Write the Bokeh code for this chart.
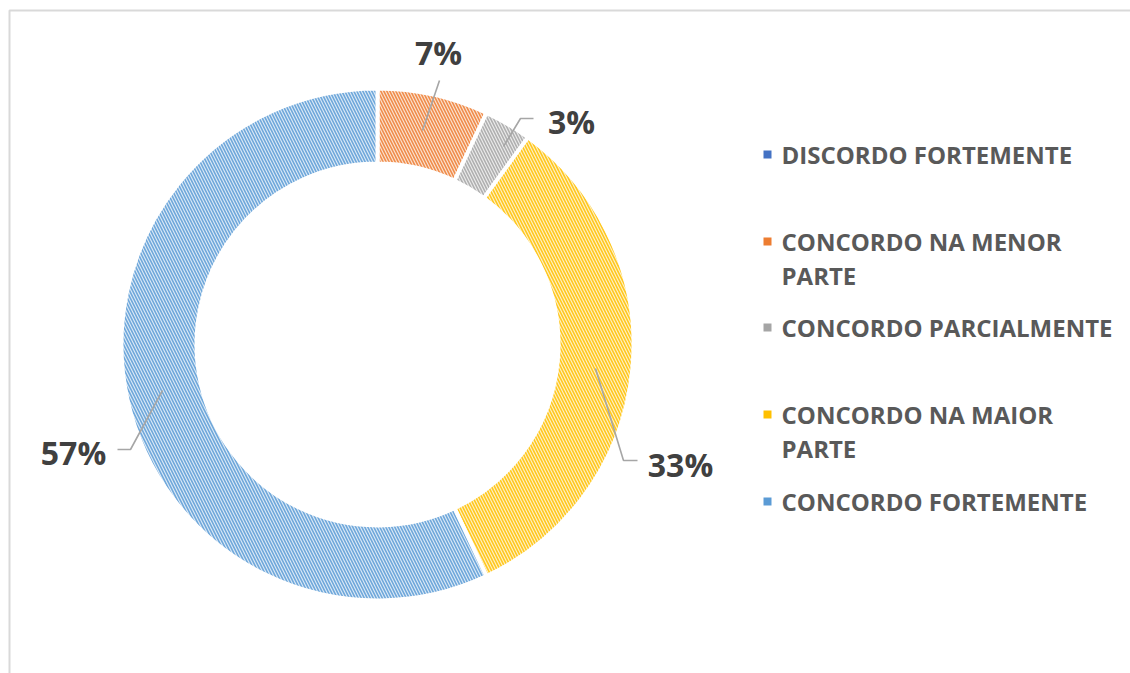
import math
from bokeh.plotting import figure
from bokeh.models import Range1d, ColumnDataSource
from bokeh.core.properties import value
from bokeh.embed import file_html
from bokeh.resources import INLINE

# ---------------- data ----------------
categories = ["DISCORDO FORTEMENTE", "CONCORDO NA MENOR\nPARTE", "CONCORDO PARCIALMENTE",
              "CONCORDO NA MAIOR\nPARTE", "CONCORDO FORTEMENTE"]
percentages = [0, 7, 3, 33, 57]
colors = ["#4472C4", "#ED7D31", "#A5A5A5", "#FFC000", "#5B9BD5"]

# ---------------- layout ----------------
W, H = 1130, 673
CX, CY = 377, 344          # donut centre (pixels from top-left)
R_OUT, R_IN = 256, 181
FONT = value("Open Sans")

def Y(py):
    return H - py

p = figure(width=W, height=H, output_backend="svg", toolbar_location=None,
           x_range=Range1d(0, W), y_range=Range1d(0, H), min_border=0)
p.axis.visible = False
p.grid.visible = False
p.outline_line_color = None
p.background_fill_color = "white"
p.border_fill_color = "white"

# chart border (only top/left visible in the window)
p.quad(left=[9], right=[W + 20], top=[Y(10)], bottom=[Y(H + 20)],
       fill_color=None, line_color="#D9D9D9", line_width=2)

# ---------------- donut ----------------
total = sum(percentages)
cum = 0.0
starts, ends, cols = [], [], []
for pct, c in zip(percentages, colors):
    a0 = cum / total
    cum += pct
    a1 = cum / total
    if pct > 0:
        starts.append(math.pi / 2 - 2 * math.pi * a1)
        ends.append(math.pi / 2 - 2 * math.pi * a0)
        cols.append(c)

src = ColumnDataSource(dict(x=[CX] * len(cols), y=[Y(CY)] * len(cols),
                            start=starts, end=ends, color=cols))
p.annular_wedge(x="x", y="y", inner_radius=R_IN, outer_radius=R_OUT,
                start_angle="start", end_angle="end", source=src,
                fill_color="color", fill_alpha=0.22,
                hatch_pattern="\\", hatch_color="color", hatch_scale=6,
                hatch_weight=1.6, hatch_alpha=0.85,
                line_color="white", line_width=4)

# ---------------- data labels with leader lines ----------------
label_pos = {1: (438, 52), 2: (571, 121), 3: (680, 464), 4: (73, 452)}
leaders = {
    1: [(422, 130), (439, 80)],
    2: [(503, 146), (520, 118), (533, 118)],
    3: [(595, 368), (623, 460), (637, 460)],
    4: [(162, 390), (130, 449), (117, 449)],
}
for i, pct in enumerate(percentages):
    if pct == 0:
        continue
    pts = leaders[i]
    p.line([q[0] for q in pts], [Y(q[1]) for q in pts],
           line_color="#A6A6A6", line_width=1.6)
    lx, ly = label_pos[i]
    p.text(x=[lx], y=[Y(ly)], text=[f"{pct}%"], text_font=FONT,
           text_font_size="32px", text_font_style="bold", text_color="#404040",
           text_align="center", text_baseline="middle")

# ---------------- legend ----------------
leg_rows = [154, 241, 327, 414, 501]
LINE_GAP = 34
for cat, c, ry in zip(categories, colors, leg_rows):
    p.rect(x=[767], y=[Y(ry)], width=8, height=8, fill_color=c, line_color=None)
    for k, line in enumerate(cat.split("\n")):
        p.text(x=[781], y=[Y(ry + k * LINE_GAP)], text=[line], text_font=FONT,
               text_font_size="24px", text_font_style="bold", text_color="#595959",
               text_align="left", text_baseline="middle")

open("out.html", "w").write(file_html(p, INLINE))
